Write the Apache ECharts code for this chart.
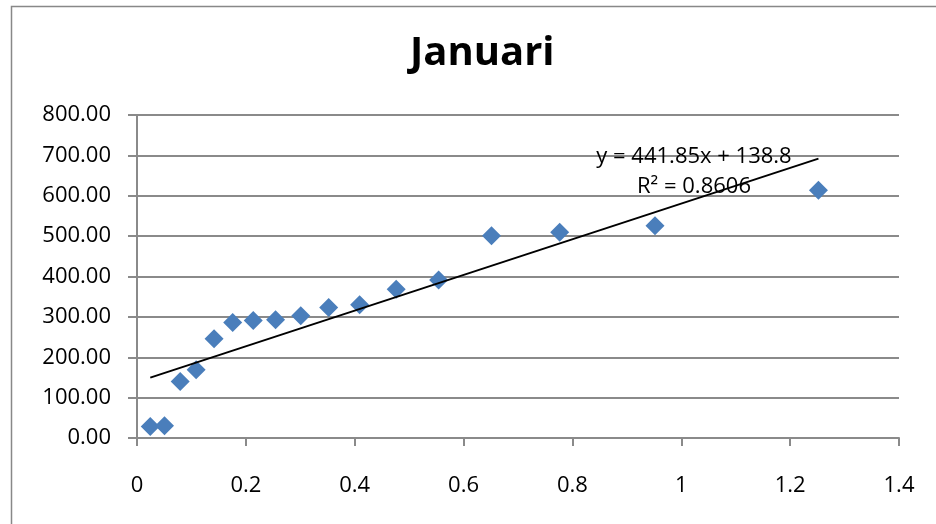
<!DOCTYPE html>
<html>
<head>
<meta charset="utf-8">
<script src="https://cdn.jsdelivr.net/npm/echarts@6/dist/echarts.min.js"></script>
<style>
html,body{margin:0;padding:0;background:#fff;}
#c{width:936px;height:524px;}
</style>
</head>
<body>
<div id="c"></div>
<script>
const chartTitle = 'Januari';
const xValues = [0.0244, 0.0505, 0.0793, 0.1086, 0.1416, 0.1758, 0.2136, 0.2546, 0.3009, 0.3522, 0.4090, 0.4762, 0.5542, 0.6513, 0.7766, 0.9517, 1.2520];
const yValues = [28.7, 30.4, 140, 169, 245.7, 286, 291, 292.7, 302.6, 323, 329.8, 368.6, 391.6, 501, 509.6, 526, 613.6];
const trendSlope = 441.85;
const trendIntercept = 138.8;
const trendR2 = '0.8606';
const xTicks = [0, 0.2, 0.4, 0.6, 0.8, 1, 1.2, 1.4];
const yTicks = [0, 100, 200, 300, 400, 500, 600, 700, 800];

const points = xValues.map((x, i) => [x, yValues[i]]);
const xMin = Math.min(...xValues), xMax = Math.max(...xValues);
const trendData = [[xMin, trendSlope * xMin + trendIntercept], [xMax, trendSlope * xMax + trendIntercept]];
const eqText = 'y = ' + trendSlope + 'x + ' + trendIntercept;
const r2Text = 'R² = ' + trendR2;

const font = '"Open Sans", "Liberation Sans", sans-serif';
const chart = echarts.init(document.getElementById('c'), null, {renderer: 'canvas'});
chart.setOption({
  animation: false,
  backgroundColor: '#fff',
  title: {
    text: chartTitle, left: 405, top: 29,
    textStyle: {fontFamily: font, fontWeight: 'bold', fontSize: 40, color: '#000'}
  },
  grid: {left: 137, right: 37, top: 115, bottom: 86, containLabel: false},
  xAxis: {
    type: 'value', min: xTicks[0], max: xTicks[xTicks.length - 1], interval: 0.2,
    axisLine: {show: true, lineStyle: {color: '#8a8a8a', width: 2}},
    axisTick: {show: true, inside: false, length: 8, lineStyle: {color: '#8a8a8a', width: 2}},
    splitLine: {show: false},
    axisLabel: {
      margin: 37, fontFamily: font, fontSize: 22, color: '#000',
      formatter: v => String(Math.round(v * 10) / 10)
    }
  },
  yAxis: {
    type: 'value', min: yTicks[0], max: yTicks[yTicks.length - 1], interval: 100,
    axisLine: {show: true, lineStyle: {color: '#8a8a8a', width: 2}},
    axisTick: {show: true, inside: false, length: 9, lineStyle: {color: '#8a8a8a', width: 2}},
    splitLine: {show: true, lineStyle: {color: '#8a8a8a', width: 2}},
    axisLabel: {
      margin: 26, fontFamily: font, fontSize: 22, color: '#000',
      formatter: v => v.toFixed(2)
    }
  },
  series: [
    {
      type: 'scatter', data: points, symbol: 'diamond', symbolSize: 19,
      itemStyle: {color: '#4a7ebb', opacity: 1}, z: 3
    },
    {
      type: 'line', data: trendData, symbol: 'none', z: 4,
      lineStyle: {color: '#000', width: 2}
    }
  ],
  graphic: [
    {
      type: 'rect', left: 9, top: 4, z: -1, silent: true,
      shape: {width: 1000, height: 1000},
      style: {fill: 'none', stroke: '#888', lineWidth: 1.5}
    },
    {
      type: 'text', x: 694, y: 157, z: 5,
      style: {text: eqText, font: '22px ' + font, fill: '#000', textAlign: 'center', textVerticalAlign: 'middle'}
    },
    {
      type: 'text', x: 694, y: 187, z: 5,
      style: {text: r2Text, font: '22px ' + font, fill: '#000', textAlign: 'center', textVerticalAlign: 'middle'}
    }
  ]
});
</script>
</body>
</html>
